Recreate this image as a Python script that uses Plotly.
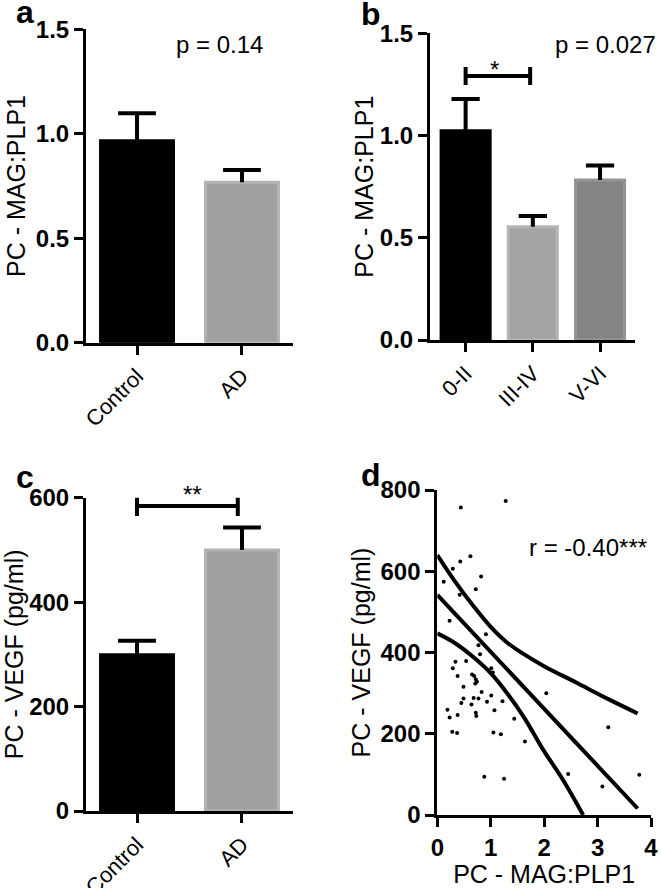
import plotly.graph_objects as go

W, H = 661, 888

# ---------------- data ----------------
# Panel a
a_groups = ["Control", "AD"]
a_means = [0.967, 0.768]
a_sem = [0.131, 0.058]

# Panel b
b_groups = ["0-II", "III-IV", "V-VI"]
b_means = [1.024, 0.554, 0.783]
b_sem = [0.155, 0.053, 0.070]

# Panel c
c_groups = ["Control", "AD"]
c_means = [299, 500]
c_sem = [27, 43]

# Panel d scatter (PC - MAG:PLP1 vs PC - VEGF)
d_x = [1.28, 0.44, 0.62, 0.43, 0.29, 0.12, 0.82, 0.72, 0.42, 0.23,
       0.91, 0.77, 0.80, 0.34, 0.54, 0.29, 1.01, 1.04, 0.38, 0.65,
       0.69, 0.72, 0.74, 0.71, 0.49, 0.83, 1.01, 2.04, 0.49, 0.68,
       0.77, 0.45, 0.64, 0.93, 1.22, 0.19, 0.72, 0.73, 1.07, 0.38,
       0.23, 1.44, 0.28, 0.37, 1.05, 1.19, 1.64, 1.76, 0.88, 1.25,
       3.20, 2.45, 3.09, 3.78]
d_y = [773, 757, 637, 624, 606, 574, 587, 556, 542, 478,
       445, 418, 396, 377, 379, 361, 361, 351, 342, 346,
       342, 334, 328, 324, 316, 303, 294, 300, 287, 288,
       287, 276, 272, 279, 280, 259, 252, 244, 258, 246,
       240, 237, 205, 202, 203, 199, 181, 210, 94, 89,
       216, 101, 70, 99]

# regression line and 95% confidence band
fit_x = [0, 3.75]
fit_y = [542, 16]
upper_x = [0, 0.32, 0.69, 1.00, 1.31, 1.62, 1.99, 2.60, 3.22, 3.75]
upper_y = [640, 577, 512, 463, 424, 396, 367, 326, 284, 250]
lower_x = [0, 0.32, 0.69, 1.00, 1.31, 1.62, 1.99, 2.36, 2.73]
lower_y = [447, 424, 387, 349, 299, 241, 159, 85, 0]

# ---------------- styles ----------------
FONT = "Liberation Sans"
BLACK = "#000000"


def px_x(p):
    return p / W


def px_y(p):
    return 1 - p / H


bold_tick = dict(family=FONT, size=24, color=BLACK, weight="bold")
reg_tick = dict(family=FONT, size=22, color=BLACK)
title_font = dict(family=FONT, size=25, color=BLACK)

axis_common = dict(showline=True, linecolor=BLACK, linewidth=3,
                   ticks="outside", ticklen=9, tickwidth=3, tickcolor=BLACK,
                   showgrid=False, zeroline=False, automargin=False)


def errbar_path(means, sems, half_cap):
    """Line coordinates for one-sided (mean + SEM) error bars."""
    xs, ys = [], []
    for i, (m, s) in enumerate(zip(means, sems)):
        xs += [i, i, None, i - half_cap, i + half_cap, None]
        ys += [m, m + s, None, m + s, m + s, None]
    return xs, ys


fig = go.Figure()


def add_bar_panel(groups, means, sems, fills, edges, width, half_cap, xa, ya):
    idx = list(range(len(groups)))
    fig.add_trace(go.Bar(
        x=idx, y=means, width=width,
        marker=dict(color=fills, line=dict(color=edges, width=3)),
        xaxis=xa, yaxis=ya, showlegend=False, hoverinfo="skip"))
    ex, ey = errbar_path(means, sems, half_cap)
    fig.add_trace(go.Scatter(
        x=ex, y=ey, mode="lines", line=dict(color=BLACK, width=4),
        xaxis=xa, yaxis=ya, showlegend=False, hoverinfo="skip"))


add_bar_panel(a_groups, a_means, a_sem, ["#000000", "#a0a0a0"], ["#000000", "#b3b3b3"],
              0.695, 0.18, "x", "y")
add_bar_panel(b_groups, b_means, b_sem, ["#000000", "#a4a4a4", "#848484"],
              ["#000000", "#b5b5b5", "#959595"], 0.73, 0.21, "x2", "y2")
add_bar_panel(c_groups, c_means, c_sem, ["#000000", "#a0a0a0"], ["#000000", "#b3b3b3"],
              0.695, 0.18, "x3", "y3")

# Panel d
fig.add_trace(go.Scatter(x=d_x, y=d_y, mode="markers",
                         marker=dict(color=BLACK, size=4),
                         xaxis="x4", yaxis="y4", showlegend=False))
fig.add_trace(go.Scatter(x=fit_x, y=fit_y, mode="lines",
                         line=dict(color=BLACK, width=4),
                         xaxis="x4", yaxis="y4", showlegend=False))
fig.add_trace(go.Scatter(x=upper_x, y=upper_y, mode="lines",
                         line=dict(color=BLACK, width=4, shape="spline"),
                         xaxis="x4", yaxis="y4", showlegend=False))
fig.add_trace(go.Scatter(x=lower_x, y=lower_y, mode="lines",
                         line=dict(color=BLACK, width=4, shape="spline"),
                         xaxis="x4", yaxis="y4", showlegend=False))

# ---------------- axes ----------------
layout = dict(
    width=W, height=H, margin=dict(l=0, r=0, t=0, b=0),
    paper_bgcolor="white", plot_bgcolor="white",
    xaxis=dict(domain=[px_x(86), px_x(293)], range=[-0.486, 1.486],
               tickvals=list(range(len(a_groups))), ticktext=a_groups,
               tickangle=-45, tickfont=reg_tick, anchor="y", **axis_common),
    yaxis=dict(domain=[px_y(342.7), px_y(29.3)], range=[0, 1.5],
               tickvals=[0, 0.5, 1.0, 1.5], ticktext=["0.0", "0.5", "1.0", "1.5"],
               tickfont=bold_tick, anchor="x",
               title=dict(text="PC - MAG:PLP1", font=title_font, standoff=4),
               **axis_common),
    xaxis2=dict(domain=[px_x(430), px_x(635)], range=[-0.53, 2.52],
                tickvals=list(range(len(b_groups))), ticktext=b_groups,
                tickangle=-45, tickfont=reg_tick, anchor="y2", **axis_common),
    yaxis2=dict(domain=[px_y(340), px_y(33.3)], range=[0, 1.5],
                tickvals=[0, 0.5, 1.0, 1.5], ticktext=["0.0", "0.5", "1.0", "1.5"],
                tickfont=bold_tick, anchor="x2",
                title=dict(text="PC - MAG:PLP1", font=title_font, standoff=0),
                **axis_common),
    xaxis3=dict(domain=[px_x(86), px_x(293)], range=[-0.486, 1.486],
                tickvals=list(range(len(c_groups))), ticktext=c_groups,
                tickangle=-45, tickfont=reg_tick, anchor="y3", **axis_common),
    yaxis3=dict(domain=[px_y(811), px_y(497.7)], range=[0, 600],
                tickvals=[0, 200, 400, 600],
                tickfont=bold_tick, anchor="x3",
                title=dict(text="PC - VEGF (pg/ml)", font=title_font, standoff=12),
                **axis_common),
    xaxis4=dict(domain=[px_x(437.3), px_x(651)], range=[0, 4],
                tickvals=[0, 1, 2, 3, 4], tickfont=bold_tick, anchor="y4",
                title=dict(text="PC - MAG:PLP1", font=title_font, standoff=2),
                **axis_common),
    yaxis4=dict(domain=[px_y(815), px_y(490)], range=[0, 800],
                tickvals=[0, 200, 400, 600, 800],
                tickfont=bold_tick, anchor="x4",
                title=dict(text="PC - VEGF (pg/ml)", font=title_font, standoff=3),
                **axis_common),
)
fig.update_layout(**layout)

# ---------------- significance brackets ----------------
shapes = []
line_st = dict(color=BLACK, width=4)
# panel b: 0-II vs III-IV
for (x0, y0, x1, y1) in [(0, 1.291, 0.96, 1.291), (0, 1.247, 0, 1.335), (0.96, 1.247, 0.96, 1.335)]:
    shapes.append(dict(type="line", xref="x2", yref="y2", x0=x0, y0=y0, x1=x1, y1=y1, line=line_st))
# panel c: Control vs AD
for (x0, y0, x1, y1) in [(0, 584, 0.96, 584), (0, 565, 0, 602), (0.96, 565, 0.96, 602)]:
    shapes.append(dict(type="line", xref="x3", yref="y3", x0=x0, y0=y0, x1=x1, y1=y1, line=line_st))
fig.update_layout(shapes=shapes)

# ---------------- annotations ----------------
ann = []
txt_font = dict(family=FONT, size=24, color=BLACK)
letter_font = dict(family=FONT, size=32, color=BLACK, weight="bold")


def add_text(text, x, y, font, xanchor="center", yanchor="middle"):
    ann.append(dict(text=text, x=px_x(x), y=px_y(y), xref="paper", yref="paper",
                    showarrow=False, font=font, xanchor=xanchor, yanchor=yanchor))


add_text("p = 0.14", 220, 44, txt_font)
add_text("p = 0.027", 605, 44, txt_font)
add_text("r = -0.40***", 588, 547, txt_font)
add_text("*", 494, 70, txt_font)
add_text("**", 192, 494, txt_font)
add_text("a", 25, 12, letter_font)
add_text("b", 371, 14, letter_font)
add_text("c", 25, 477, letter_font)
add_text("d", 371, 475, letter_font)
fig.update_layout(annotations=ann)

fig.write_html("out.html", config={"displayModeBar": False},
               post_script="document.body.style.margin='0px';document.body.style.overflow='hidden';")
